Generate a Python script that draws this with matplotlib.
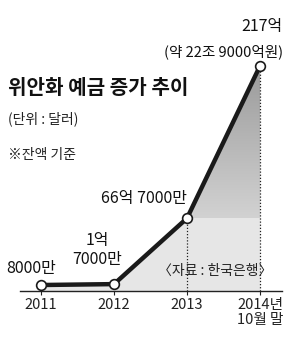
import matplotlib
matplotlib.use("Agg")

import matplotlib.pyplot as plt
import numpy as np
from matplotlib.patches import Polygon
from matplotlib.colors import LinearSegmentedColormap

plt.rcParams['font.family'] = ['Noto Sans CJK KR', 'DejaVu Sans']

years = [2011, 2012, 2013, 2014]
values = [0.8, 1.7, 66.7, 217]   # 억 달러
tick_labels = ["2011", "2012", "2013", "2014년\n10월 말"]
point_labels = ["8000만", "1억\n7000만", "66억 7000만", "217억"]

W, H = 300, 347
fig = plt.figure(figsize=(W / 100, H / 100), dpi=100)

# axes: baseline at y=291px, x from 20 to 282px
ax = fig.add_axes([20 / W, 1 - 291 / H, 262 / W, 291 / H])
ax.set_xlim(2010.712, 2014.301)
ax.set_ylim(-5.1, 282)

# light fill under whole line
ax.fill_between(years, -5.1, values, color="#e6e6e6", lw=0, zorder=1)

# darker gradient between 2013 and 2014, above 2013 level
poly = Polygon([(years[2], values[2]), (years[3], values[3]), (years[3], values[2])],
               closed=True, facecolor="none", edgecolor="none")
ax.add_patch(poly)
gray_cmap = LinearSegmentedColormap.from_list("g", ["#9a9a9a", "#d2d2d2"])
grad = np.linspace(0, 1, 256).reshape(-1, 1)
im = ax.imshow(grad, cmap=gray_cmap, aspect="auto",
               extent=[years[2], years[3], values[2], values[3]],
               origin="upper", zorder=2)
im.set_clip_path(poly)

# dotted drops
ax.vlines(years[2:], -5.1, values[2:], colors="#222222", linestyles=(0, (1, 1.5)),
          lw=0.9, zorder=3)

ax.plot(years, values, color="#1a1a1a", lw=3.2, marker="o", ms=7,
        mfc="white", mec="#1a1a1a", mew=1.2, zorder=4, solid_capstyle="butt")

for s in ["top", "right", "left"]:
    ax.spines[s].set_visible(False)
ax.spines["bottom"].set_color("#222222")
ax.spines["bottom"].set_linewidth(1)
ax.set_yticks([])
ax.set_xticks(years)
ax.set_xticklabels(tick_labels, fontsize=10.5, color="#222222", linespacing=1.1)
ax.tick_params(axis="x", length=3, width=0.8, color="#222222", pad=2)
ax.patch.set_alpha(0)

# texts
fig.text(8 / W, 1 - 88 / H, "위안화 예금 증가 추이", fontsize=14.5, fontweight="bold",
         va="center", ha="left", color="#111111")
fig.text(8 / W, 1 - 119 / H, "(단위 : 달러)", fontsize=10, va="center", ha="left",
         color="#222222")
fig.text(8 / W, 1 - 155 / H, "※잔액 기준", fontsize=10, va="center", ha="left",
         color="#222222")

fig.text(283 / W, 1 - 27 / H, point_labels[3], fontsize=11.5, va="center", ha="right",
         color="#111111")
fig.text(283 / W, 1 - 52 / H, "(약 22조 9000억원)", fontsize=10.5, va="center",
         ha="right", color="#111111")
fig.text(144 / W, 1 - 198 / H, point_labels[2], fontsize=11.5, va="center",
         ha="center", color="#111111")
fig.text(97 / W, 1 - 250 / H, point_labels[1], fontsize=11.5, va="center",
         ha="center", color="#111111", linespacing=1.15)
fig.text(31 / W, 1 - 268 / H, point_labels[0], fontsize=11.5, va="center",
         ha="center", color="#111111")
fig.text(215 / W, 1 - 271 / H, "〈자료 : 한국은행〉", fontsize=10, va="center",
         ha="center", color="#222222")

fig.savefig("out.png", dpi=100)
